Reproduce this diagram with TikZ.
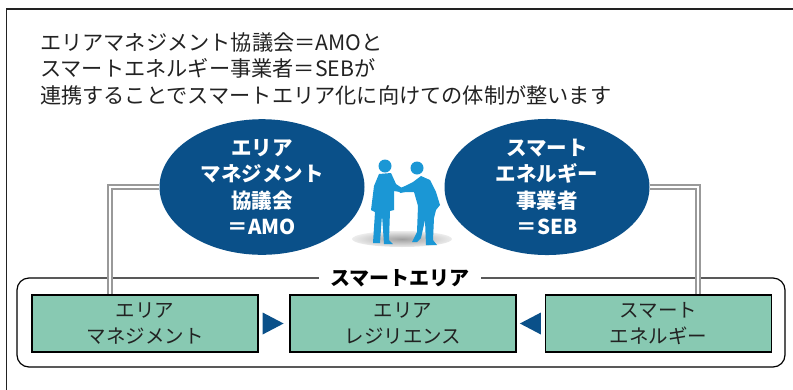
\documentclass[tikz,border=0pt]{standalone}
\usepackage{fontspec}
\setmainfont{Noto Sans CJK JP}
\usetikzlibrary{shapes.geometric,positioning,calc}

\definecolor{deepblue}{HTML}{0A5089}
\definecolor{skyblue}{HTML}{1B97D5}
\definecolor{mint}{HTML}{88C9B2}
\definecolor{inkgray}{HTML}{222222}

\begin{document}
\begin{tikzpicture}[x=1pt,y=-1pt,
  org/.style={ellipse,fill=deepblue,text=white,font=\fontsize{20.5}{26.5}\selectfont\bfseries,
    minimum width=205pt,minimum height=124pt,inner sep=0pt,align=center},
  part/.style={rectangle,draw=black,line width=1.2pt,fill=mint,text=inkgray,
    font=\fontsize{19.5}{25.5}\selectfont,minimum width=226pt,minimum height=57pt,align=center},
  link/.style={draw=gray!80,double=white,double distance=2.4pt,line width=1.5pt},
  flow/.style={fill=deepblue}]
\useasboundingbox (0,0) rectangle (793,389);
\clip (0,0) rectangle (793,389);

% outer frame
\draw[inkgray,line width=0.8pt] (6,400) -- (6,9);
\draw[inkgray,line width=2pt] (6,9) -- (800,9);

% heading text
\node[anchor=north west,inner sep=0pt,text=inkgray,align=left,
  font=\fontsize{21.2}{26.5}\selectfont] (head) at (40,32)
  {エリアマネジメント協議会＝AMOと\\スマートエネルギー事業者＝SEBが\\連携することでスマートエリア化に向けての体制が整います};

% the smart area frame
\draw[black,line width=1.2pt,rounded corners=12pt] (17,278) rectangle (785,367);

% three parts of the smart area
\node[part] (mgmt) at (145,323.5) {エリア\\マネジメント};
\node[part] (resil) at (403,323.5) {エリア\\レジリエンス};
\node[part] (energy) at (658.5,323.5) {スマート\\エネルギー};

% area title over the frame line
\node[fill=white,inner xsep=11pt,inner ysep=2pt,text=black,
  font=\fontsize{20}{22}\selectfont\bfseries] (area) at (400,278) {スマートエリア};

% arrows into the middle
\fill[flow] ($(mgmt.east)+(4,-11)$) -- ($(mgmt.east)+(25,0)$) -- ($(mgmt.east)+(4,11)$) -- cycle;
\fill[flow] ($(energy.west)+(-4,-11)$) -- ($(energy.west)+(-25,0)$) -- ($(energy.west)+(-4,11)$) -- cycle;

% the two organisations
\node[org] (amo) at (262,187) {エリア\\マネジメント\\協議会\\＝AMO};
\node[org] (seb) at (547,187) {スマート\\エネルギー\\事業者\\＝SEB};

% links down to the parts
\coordinate (lcorner) at (110,187);
\coordinate (rcorner) at (698,187);
\draw[link] (amo.west) -- (lcorner) -- (lcorner |- mgmt.north);
\draw[link] (seb.east) -- (rcorner) -- (rcorner |- energy.north);

% shadow under the handshake
\shade[inner color=gray!75,outer color=gray!15] (402,239) ellipse (50 and 8);

% man on the left, standing
\fill[skyblue] (385,166) circle (6.5);
\fill[skyblue] (379,174) -- (391,173) -- (396,184) -- (402,188) -- (400,192)
  -- (394,191) -- (394,210) -- (390,211) -- (389,240) -- (393,244) -- (384,244)
  -- (382,215) -- (380,243) -- (373,243) -- (375,212) -- (371,210) -- (374,186) -- cycle;

% man on the right, bowing
\fill[skyblue] (417,168) circle (6.5);
\fill[skyblue] (421,176) -- (430,180) -- (436,192) -- (440,205) -- (436,210)
  -- (434,218) -- (433,240) -- (437,245) -- (426,245) -- (425,220) -- (421,238)
  -- (417,242) -- (412,242) -- (417,232) -- (418,206) -- (414,192) -- (406,192)
  -- (400,193) -- (398,189) -- (405,186) -- (413,182) -- cycle;
\end{tikzpicture}
\end{document}
